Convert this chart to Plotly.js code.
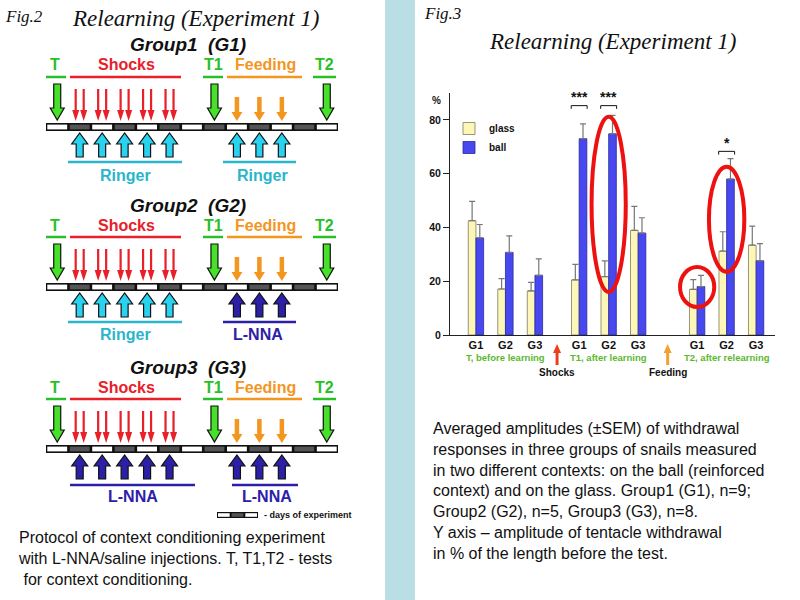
<!DOCTYPE html>
<html><head><meta charset="utf-8">
<script src="https://cdn.plot.ly/plotly-3.0.1.min.js"></script>
<style>html,body{margin:0;padding:0;background:#fff}#chart{width:800px;height:600px}</style>
</head><body><div id="chart"></div>
<script>
// ---------- data ----------
const tests = ["T, before learning", "T1, after learning", "T2, after relearning"];
const groups = ["G1", "G2", "G3"];
const glass    = [42.5, 17.1, 16.4, 20.5, 21.7, 38.9, 17.0, 31.2, 33.4];
const glassErr = [7.2, 3.9, 3.2, 5.8, 5.9, 8.9, 3.6, 7.2, 7.1];
const ball     = [36.1, 30.7, 22.2, 73.0, 74.8, 37.9, 18.0, 58.0, 27.6];
const ballErr  = [5.0, 6.2, 6.1, 5.5, 6.9, 5.7, 4.2, 7.6, 6.4];
const yTicks = [0, 20, 40, 60, 80];
const events = ["Shocks", "Feeding"];
const signif = ["***", "***", "*"];

// ---------- layout helpers ----------
const W = 800, H = 600;
const testStart = [0, 3.5, 7.5];
const XR = [-0.88, 10.14], XD = [450, 775];
const xs = [], xt = [];
tests.forEach((t, ti) => groups.forEach((g, gi) => { xs.push(testStart[ti] + gi); xt.push(g); }));
const px = x => +(x / W).toFixed(5), py = y => +(1 - y / H).toFixed(5);
const dataToPx = v => XD[0] + (v - XR[0]) / (XR[1] - XR[0]) * (XD[1] - XD[0]);
const pathFrom = pts => 'M' + pts.map(p => px(p[0]) + ',' + py(p[1])).join(' L') + ' Z';
const shapes = [], annotations = [];
function rect(x0, y0, x1, y1, fill, lineColor, lw, layer) {
  shapes.push({type: 'rect', xref: 'paper', yref: 'paper', x0: px(x0), x1: px(x1), y0: py(y1), y1: py(y0),
    fillcolor: fill, line: {color: lineColor || fill, width: lw || 0}, layer: layer || 'above'});
}
function hline(x0, x1, y, color, w) {
  shapes.push({type: 'line', xref: 'paper', yref: 'paper', x0: px(x0), x1: px(x1), y0: py(y), y1: py(y), line: {color, width: w}});
}
function arrow(cx, yTail, yTip, sw, hw, hl, fill, outline) {
  const d = Math.sign(yTip - yTail), yb = yTip - d * hl;
  const pts = [[cx - sw / 2, yTail], [cx - sw / 2, yb], [cx - hw / 2, yb], [cx, yTip], [cx + hw / 2, yb], [cx + sw / 2, yb], [cx + sw / 2, yTail]];
  shapes.push({type: 'path', xref: 'paper', yref: 'paper', path: pathFrom(pts), fillcolor: fill,
    line: {color: outline || fill, width: outline ? 1.2 : 0}});
}
function text(x, y, s, size, color, opts) {
  annotations.push(Object.assign({xref: 'paper', yref: 'paper', x: px(x), y: py(y), text: s, showarrow: false,
    xanchor: 'center', yanchor: 'middle', font: {family: 'Liberation Sans, Arial, sans-serif', size, color}}, opts || {}));
}

// ---------- separator ----------
rect(385, 0, 415, 600, '#b9dfe4', null, 0, 'below');

// ---------- left panel (protocol diagram) ----------
const serif = 'Liberation Serif, DejaVu Serif, serif';
text(24, 17, '<i>Fig.2</i>', 17, '#111', {font: {family: serif, size: 17, color: '#111'}});
text(196, 18, '<i>Relearning (Experiment 1)</i>', 23, '#111', {font: {family: serif, size: 23, color: '#111'}});

const GREEN = '#27c027', RED = '#e8202a', ORANGE = '#f3961f', CYAN = '#2bb5ca', NAVY = '#2d20a8';
const groupCfg = [
  {title: 'Group1  (G1)', left: 'Ringer', right: 'Ringer', top: 123},
  {title: 'Group2  (G2)', left: 'Ringer', right: 'L-NNA', top: 283},
  {title: 'Group3  (G3)', left: 'L-NNA', right: 'L-NNA', top: 445}
];
const segW = 292 / 13, bx0 = 46;
const segC = i => bx0 + segW * (i + 0.5);
groupCfg.forEach((g, gi) => {
  const b = g.top;
  text(188, b - 78, '<b><i>' + g.title + '</i></b>', 19, '#111');
  text(55, b - 58, '<b>T</b>', 16, GREEN);
  text(126, b - 58, '<b>Shocks</b>', 16, RED);
  text(213, b - 58, '<b>T1</b>', 16, GREEN);
  text(265, b - 58, '<b>Feeding</b>', 16, ORANGE);
  text(324, b - 58, '<b>T2</b>', 16, GREEN);
  hline(46, 66, b - 46, GREEN, 2.5);
  hline(70, 181, b - 46, RED, 2.5);
  hline(203, 223, b - 46, GREEN, 2.5);
  hline(227, 302, b - 46, ORANGE, 2.5);
  hline(313, 336, b - 46, GREEN, 2.5);
  [0, 7, 12].forEach(i => arrow(segC(i), b - 39, b - 3, 7, 14, 12, '#46e22a', '#111'));
  [1, 2, 3, 4, 5].forEach(i => { [-4, 4].forEach(o => arrow(segC(i) + o, b - 34, b - 2, 2.2, 7, 11, RED)); });
  [8, 9, 10].forEach(i => arrow(segC(i), b - 26, b - 2, 4.5, 11, 9, ORANGE));
  rect(bx0, b, bx0 + 292, b + 8, '#111');
  for (let i = 0; i < 13; i++) rect(bx0 + segW * i + 1.3, b + 1.6, bx0 + segW * (i + 1) - 1.3, b + 6.4, i % 2 ? '#555' : '#fff');
  const lc = g.left === 'Ringer' ? '#2ad2f0' : NAVY, rc = g.right === 'Ringer' ? '#2ad2f0' : NAVY;
  [1, 2, 3, 4, 5].forEach(i => arrow(segC(i), b + 34, b + 10, 7, 16, 11, lc, '#111'));
  [8, 9, 10].forEach(i => arrow(segC(i), b + 34, b + 10, 7, 16, 11, rc, '#111'));
  const ltc = g.left === 'Ringer' ? CYAN : NAVY, rtc = g.right === 'Ringer' ? CYAN : NAVY;
  if (gi === 2) { hline(70, 195, b + 40, ltc, 2.5); hline(232, 298, b + 40, rtc, 2.5); }
  else { hline(68, 182, b + 39, ltc, 2.5); hline(223, 296, b + 39, rtc, 2.5); }
  text(gi === 2 ? 133 : 125, b + 52, '<b>' + g.left + '</b>', 16, ltc);
  text(gi === 2 ? 267 : (g.right === 'Ringer' ? 262 : 258), b + 52, '<b>' + g.right + '</b>', 16, rtc);
});
rect(217, 512, 258, 518, '#111');
[0, 1, 2].forEach(i => rect(217 + i * 41 / 3 + 1, 513.2, 217 + (i + 1) * 41 / 3 - 1, 516.8, i === 1 ? '#555' : '#fff'));
text(262, 515, '<b>- days of experiment</b>', 9, '#111', {xanchor: 'left'});
text(16, 558, 'Protocol of context conditioning experiment<br>with L-NNA/saline injections. T, T1,T2 - tests<br>&nbsp;for context conditioning.', 16, '#111', {xanchor: 'left', align: 'left'});

// ---------- right panel texts ----------
text(442, 14, '<i>Fig.3</i>', 17, '#111', {font: {family: serif, size: 17, color: '#111'}});
text(613, 42, '<i>Relearning (Experiment 1)</i>', 23, '#111', {font: {family: serif, size: 23, color: '#111'}});
text(431, 491, 'Averaged amplitudes (±SEM) of withdrawal<br>responses in three groups of snails measured<br>in two different contexts: on the ball (reinforced<br>context) and on the glass. Group1 (G1), n=9;<br>Group2 (G2), n=5, Group3 (G3), n=8.<br>Y axis – amplitude of tentacle withdrawal<br>in % of the length before the test.', 16, '#111', {xanchor: 'left', align: 'left'});

text(436, 101, '<b>%</b>', 10, '#111');
tests.forEach((t, ti) => {
  const c = testStart[ti] + 1;
  annotations.push({xref: 'x', yref: 'paper', x: c, y: py(357), text: '<b>' + t + '</b>', showarrow: false,
    font: {family: 'Liberation Sans, Arial', size: 9.5, color: '#5cb82e'}, xanchor: 'center', yanchor: 'middle'});
});
const evX = [(testStart[0] + 2 + testStart[1]) / 2, (testStart[1] + 2 + testStart[2]) / 2];
const evCol = ['#e8401f', '#f2a030'];
events.forEach((e, i) => {
  arrow(dataToPx(evX[i]), 365, 344, 3, 8, 9, evCol[i]);
  annotations.push({xref: 'x', yref: 'paper', x: evX[i], y: py(372), text: '<b>' + e + '</b>', showarrow: false,
    font: {family: 'Liberation Sans, Arial', size: 10, color: '#111'}, xanchor: 'center', yanchor: 'middle'});
});
const sigIdx = [3, 4, 7];
const sigY = [85.3, 85.3, 68.3];
sigIdx.forEach((k, i) => {
  const x0 = xs[k] - 0.27, x1 = xs[k] + 0.27, y = sigY[i];
  shapes.push({type: 'path', xref: 'x', yref: 'y', path: `M${x0},${y - 1.2} L${x0},${y} L${x1},${y} L${x1},${y - 1.2}`,
    line: {color: '#111', width: 1}});
  annotations.push({xref: 'x', yref: 'y', x: xs[k], y: y - 0.6, text: '<b>' + signif[i] + '</b>', showarrow: false,
    yanchor: 'bottom', font: {family: 'Liberation Sans, Arial', size: 14, color: '#111'}});
});
const ell = [[4, 16.0, 81.2, 0.58], [6, 10.4, 25.3, 0.58], [7, 23.5, 62.6, 0.6]];
ell.forEach(e => shapes.push({type: 'circle', xref: 'x', yref: 'y', x0: xs[e[0]] - e[3], x1: xs[e[0]] + e[3],
  y0: e[1], y1: e[2], line: {color: '#ee1111', width: 4}}));

// ---------- traces ----------
const traces = [
  {type: 'bar', name: 'glass', x: xs, y: glass, marker: {color: '#fcf7b7', line: {color: '#7d7b62', width: 0.8}},
   error_y: {type: 'data', symmetric: false, array: glassErr, arrayminus: glass.map(() => 0), color: '#777', thickness: 1.2, width: 3}},
  {type: 'bar', name: 'ball', x: xs, y: ball, marker: {color: '#4848f0', line: {color: '#2a2a9a', width: 0.8}},
   error_y: {type: 'data', symmetric: false, array: ballErr, arrayminus: ball.map(() => 0), color: '#777', thickness: 1.2, width: 3}}
];

const layout = {
  width: 800, height: 600, margin: {l: 0, r: 0, t: 0, b: 0},
  paper_bgcolor: '#fff', plot_bgcolor: '#fff',
  barmode: 'group', bargap: 0.48, bargroupgap: 0,
  font: {family: 'Liberation Sans, Arial, sans-serif', color: '#111'},
  xaxis: {domain: [XD[0] / W, XD[1] / W], range: XR, tickvals: xs, ticktext: xt, showgrid: false, zeroline: false,
    showline: true, linecolor: '#222', linewidth: 1, ticks: '', tickfont: {size: 11, weight: 'bold', color: '#111'}},
  yaxis: {domain: [1 - 335 / H, 1 - 93 / H], range: [0, 90], tickvals: yTicks, showgrid: false, zeroline: false,
    showline: true, linecolor: '#222', linewidth: 1, ticks: 'outside', ticklen: 6, tickcolor: '#222',
    tickfont: {size: 10.5, weight: 'bold', color: '#111'}},
  showlegend: true,
  legend: {x: 449 / W, y: 1 - 114 / H, xanchor: 'left', yanchor: 'top', bgcolor: 'rgba(0,0,0,0)',
    font: {size: 10, weight: 'bold', color: '#111'}, itemwidth: 30, tracegroupgap: 0},
  shapes, annotations
};
Plotly.newPlot('chart', traces, layout, {displayModeBar: false, staticPlot: true});
</script></body></html>
